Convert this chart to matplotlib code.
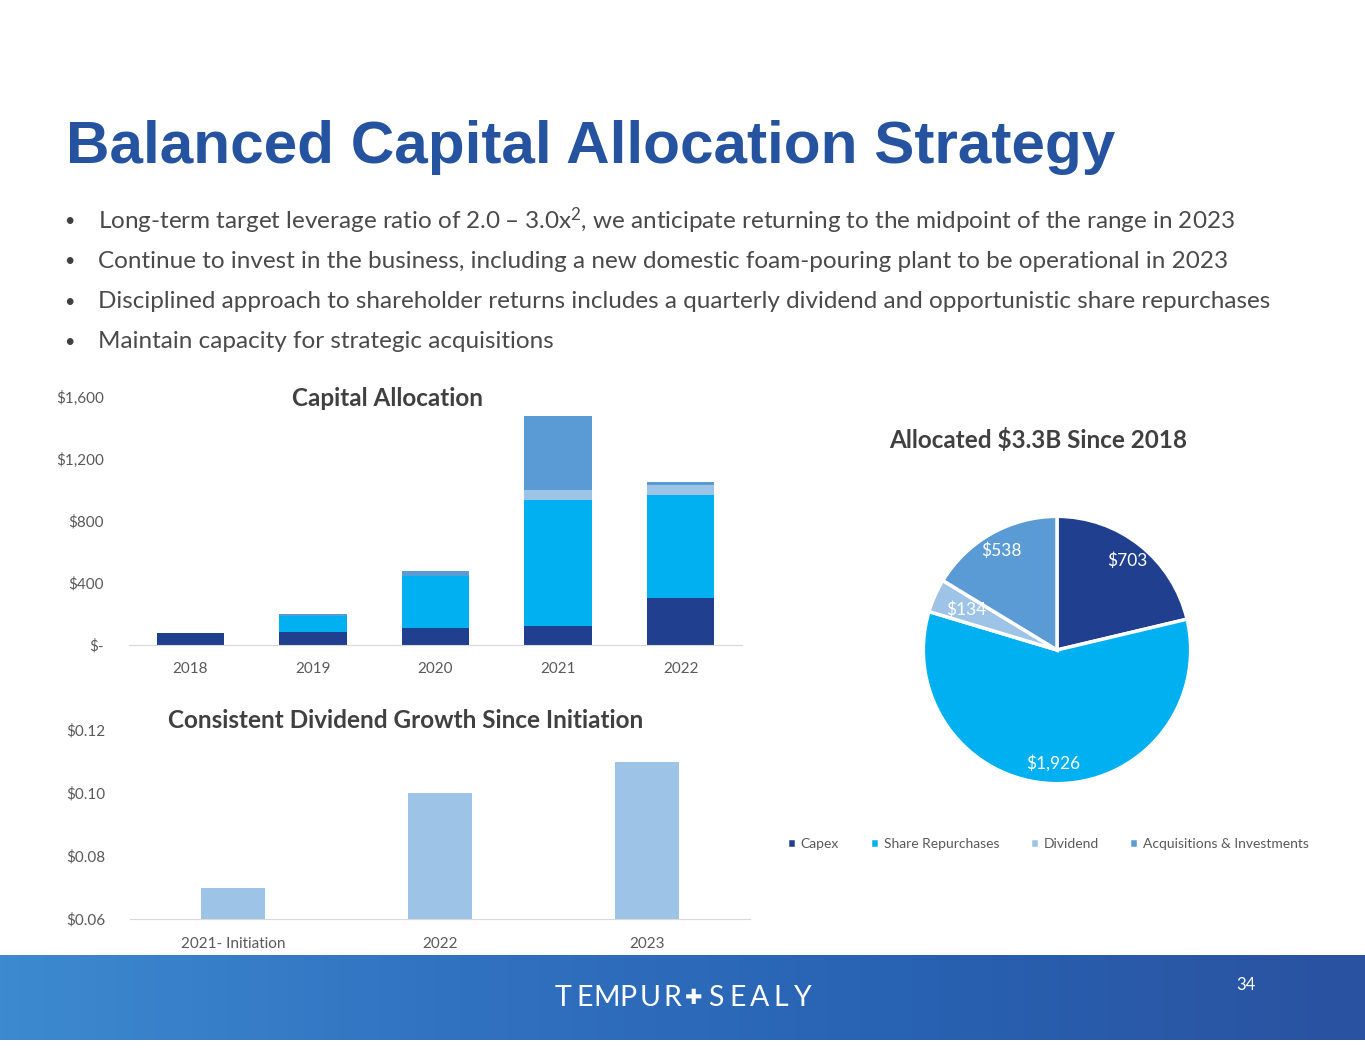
import numpy as np
import matplotlib
matplotlib.use("Agg")
import matplotlib.pyplot as plt

# --- data ---
years = ["2018", "2019", "2020", "2021", "2022"]
capex = [75, 85, 110, 122, 303]
repurchases = [0, 103, 332, 813, 665]
dividend = [0, 0, 0, 65, 64]
acquisitions = [0, 12, 35, 477, 20]
series_names = ["Capex", "Share Repurchases", "Dividend", "Acquisitions & Investments"]

div_labels = ["2021- Initiation", "2022", "2023"]
div_values = [0.07, 0.10, 0.11]

pie_values = [703, 1926, 134, 538]
pie_labels = ["$703", "$1,926", "$134", "$538"]

bullets = [
    "Long-term target leverage ratio of 2.0 \u2013 3.0x$\\mathregular{^2}$, we anticipate returning to the midpoint of the range in 2023",
    "Continue to invest in the business, including a new domestic foam-pouring plant to be operational in 2023",
    "Disciplined approach to shareholder returns includes a quarterly dividend and opportunistic share repurchases",
    "Maintain capacity for strategic acquisitions",
]

colors = ["#203F8E", "#00B0F0", "#9DC3E6", "#5B9BD5"]
GRAY = "#595959"
W, H = 1365, 1055

plt.rcParams["font.family"] = ["Lato", "DejaVu Sans"]


def box(x0, y0, x1, y1):
    """pixel box (top-left origin) -> figure rect"""
    return [x0 / W, 1 - y1 / H, (x1 - x0) / W, (y1 - y0) / H]


fig = plt.figure(figsize=(W / 100, H / 100), dpi=100)

# title + bullets
fig.text(66 / W, 1 - 163 / H, "Balanced Capital Allocation Strategy",
         family="Liberation Sans", weight="bold", fontsize=43.4, color="#2553A0",
         va="baseline")
for i, line in enumerate(bullets):
    y = 1 - (221 + 40.3 * i) / H
    fig.text(64 / W, y, "\u2022", fontsize=13, color="#404040", va="center")
    fig.text(98 / W, y, line, fontsize=17.5, color="#4A4A4A", va="center")

# stacked capital allocation bars
ax = fig.add_axes(box(129, 397, 742, 645))
x = np.arange(len(years))
bottom = np.zeros(len(years))
for vals, c in zip([capex, repurchases, dividend, acquisitions], colors):
    ax.bar(x, vals, 0.55, bottom=bottom, color=c)
    bottom += np.array(vals)
ax.set_xlim(-0.5, len(years) - 0.5)
ax.set_ylim(0, 1600)
ax.set_yticks([0, 400, 800, 1200, 1600])
ax.set_yticklabels(["$-", "$400", "$800", "$1,200", "$1,600"])
ax.set_xticks(x)
ax.set_xticklabels(years)
for s in ["top", "right", "left"]:
    ax.spines[s].set_visible(False)
ax.spines["bottom"].set_color("#D9D9D9")
ax.tick_params(length=0, labelsize=11, labelcolor=GRAY, pad=12)
ax.tick_params(axis="y", pad=18)
fig.text(388 / W, 1 - 398 / H, "Capital Allocation", fontsize=17.5, weight="bold",
         color="#404040", ha="center", va="center")

# dividend bars
ax2 = fig.add_axes(box(130, 730, 750, 919))
x2 = np.arange(len(div_labels))
ax2.bar(x2, div_values, 0.31, color=colors[2])
ax2.set_xlim(-0.5, len(div_labels) - 0.5)
ax2.set_ylim(0.06, 0.12)
ax2.set_yticks([0.06, 0.08, 0.10, 0.12])
ax2.set_yticklabels(["$0.06", "$0.08", "$0.10", "$0.12"])
ax2.set_xticks(x2)
ax2.set_xticklabels(div_labels)
for s in ["top", "right", "left"]:
    ax2.spines[s].set_visible(False)
ax2.spines["bottom"].set_color("#D9D9D9")
ax2.tick_params(length=0, labelsize=11, labelcolor=GRAY, pad=13)
ax2.tick_params(axis="y", pad=18)
fig.text(406 / W, 1 - 720 / H, "Consistent Dividend Growth Since Initiation",
         fontsize=17.5, weight="bold", color="#404040", ha="center", va="center")

# pie
ax3 = fig.add_axes(box(1057 - 135, 650 - 135, 1057 + 135, 650 + 135))
wedges, texts = ax3.pie(pie_values, labels=pie_labels, colors=colors,
                        startangle=90, counterclock=False, labeldistance=0.85,
                        wedgeprops=dict(edgecolor="white", linewidth=2.5),
                        textprops=dict(color="white", fontsize=12.5, ha="center", va="center"))
px, py = texts[2].get_position()
texts[2].set_position((px * 0.87, py * 0.87))
ax3.set_xlim(-1.01, 1.01)
ax3.set_ylim(-1.01, 1.01)
ax3.set_aspect("equal")
fig.text(1038 / W, 1 - 440 / H, "Allocated $3.3B Since 2018", fontsize=17.5,
         weight="bold", color="#404040", ha="center", va="center")
fig.legend(wedges, series_names, loc="center", bbox_to_anchor=(1048 / W, 1 - 844 / H),
           ncol=4, frameon=False, fontsize=10, labelcolor=GRAY,
           handlelength=0.65, handleheight=0.65, handletextpad=0.35, columnspacing=2.2)

# footer band
band = fig.add_axes(box(0, 955, W, 1040))
grad = np.linspace(0, 1, 256).reshape(1, -1)
cmap = matplotlib.colors.LinearSegmentedColormap.from_list(
    "band", ["#3D8AD0", "#3172C0", "#2862B2", "#2A52A0"])
band.imshow(grad, aspect="auto", cmap=cmap, extent=[0, 1, 0, 1])
band.set_axis_off()

# letter-spaced logo
logo = "TEMPUR\u271aSEALY"
for k, ch in enumerate(logo):
    fig.text((563 + 21.8 * k) / W, 1 - 998 / H, ch, family=["Lato", "DejaVu Sans"],
             fontsize=20.5 if ch != "\u271a" else 15, color="white",
             ha="center", va="center")
fig.text(1246 / W, 1 - 985 / H, "34", fontsize=12, color="white", ha="center", va="center")

fig.savefig("out.png", dpi=100)
